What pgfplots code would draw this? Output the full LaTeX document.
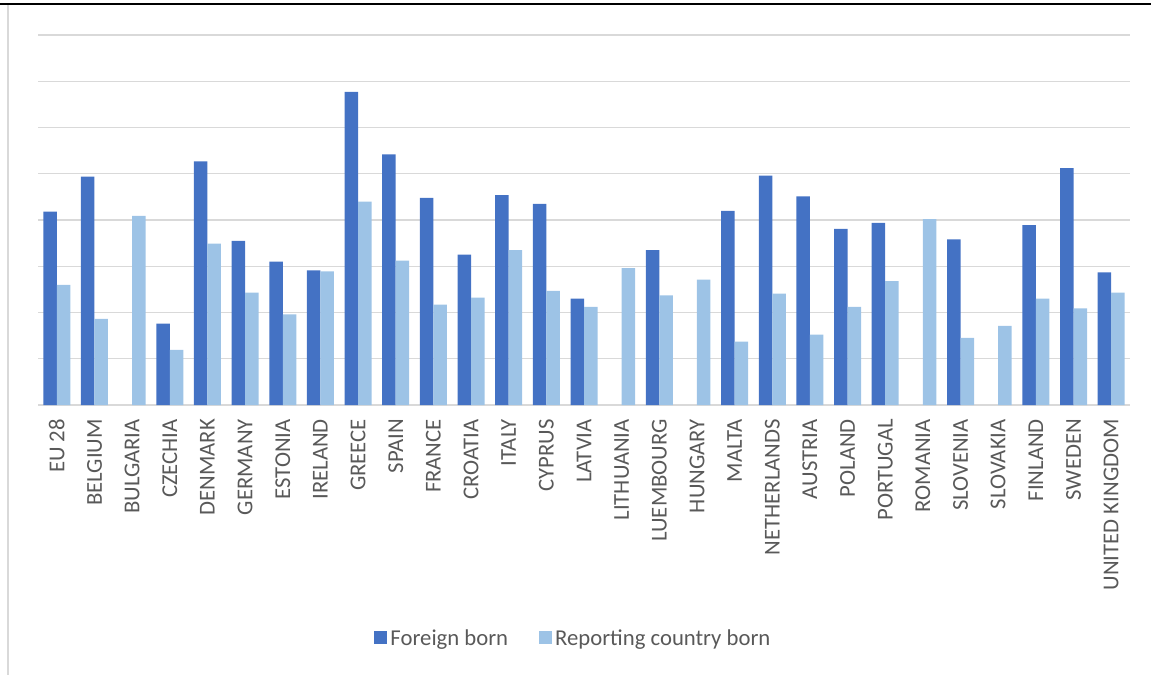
\documentclass[border=0pt]{standalone}
\usepackage{fontspec}
\setmainfont{Carlito}
\usepackage{pgfplots}
\pgfplotsset{compat=1.18}
\definecolor{fb}{HTML}{4472C4}
\definecolor{rb}{HTML}{9DC3E6}
\definecolor{gridc}{HTML}{D9D9D9}
\definecolor{txt}{HTML}{595959}
\begin{document}
\begin{tikzpicture}
\path[use as bounding box] (0bp,0bp) rectangle (1151bp,-675bp);
\draw[line width=2bp, black] (0bp,-4.3bp) -- (1151bp,-4.3bp);
\draw[line width=1.5bp, gridc] (8bp,-5.3bp) -- (8bp,-675bp);
\begin{axis}[
  at={(38bp,-405bp)}, anchor=south west,
  scale only axis, width=1092bp, height=370bp,
  xmin=-0.5, xmax=28.5, ymin=0, ymax=8,
  ybar=0pt, bar width=13.5bp,
  axis line style={draw=none},
  tick style={draw=none},
  major tick length=0pt,
  ytick={0,1,...,8}, yticklabels={},
  ymajorgrids, grid style={gridc, line width=1.3bp},
  xtick={0,1,...,28},
  xticklabels={EU 28,BELGIUM,BULGARIA,CZECHIA,DENMARK,GERMANY,ESTONIA,IRELAND,GREECE,SPAIN,FRANCE,CROATIA,ITALY,CYPRUS,LATVIA,LITHUANIA,LUEMBOURG,HUNGARY,MALTA,NETHERLANDS,AUSTRIA,POLAND,PORTUGAL,ROMANIA,SLOVENIA,SLOVAKIA,FINLAND,SWEDEN,UNITED KINGDOM},
  xticklabel style={rotate=90, anchor=east, inner sep=0pt, text=txt, font=\fontsize{22.7bp}{27bp}\selectfont},
  xticklabel shift=14bp,
  legend columns=-1,
  legend style={at={(0.4908,-0.6297)}, anchor=center, draw=none, fill=none,
    font=\fontsize{22.7bp}{27bp}\selectfont, text=txt,
    nodes={inner xsep=3bp, inner ysep=2bp},
    /tikz/every even column/.append style={column sep=28bp}},
  legend image code/.code={\fill[#1] (0bp,-6.5bp) rectangle (13bp,6.5bp);},
]
\addplot[fill=fb, draw=none] coordinates {
(0,4.18) (1,4.94) (3,1.76) (4,5.27) (5,3.55) (6,3.10) (7,2.91) (8,6.77) (9,5.42)
(10,4.48) (11,3.25) (12,4.54) (13,4.35) (14,2.30) (16,3.35) (18,4.20) (19,4.96)
(20,4.51) (21,3.81) (22,3.94) (24,3.58) (26,3.89) (27,5.12) (28,2.87)};
\addplot[fill=rb, draw=none] coordinates {
(0,2.60) (1,1.86) (2,4.09) (3,1.19) (4,3.49) (5,2.43) (6,1.96) (7,2.89) (8,4.40) (9,3.12)
(10,2.17) (11,2.32) (12,3.35) (13,2.47) (14,2.12) (15,2.96) (16,2.37) (17,2.71) (18,1.37) (19,2.41)
(20,1.52) (21,2.12) (22,2.68) (23,4.02) (24,1.45) (25,1.71) (26,2.30) (27,2.09) (28,2.43)};
\legend{Foreign born, Reporting country born}
\end{axis}
\end{tikzpicture}
\end{document}
